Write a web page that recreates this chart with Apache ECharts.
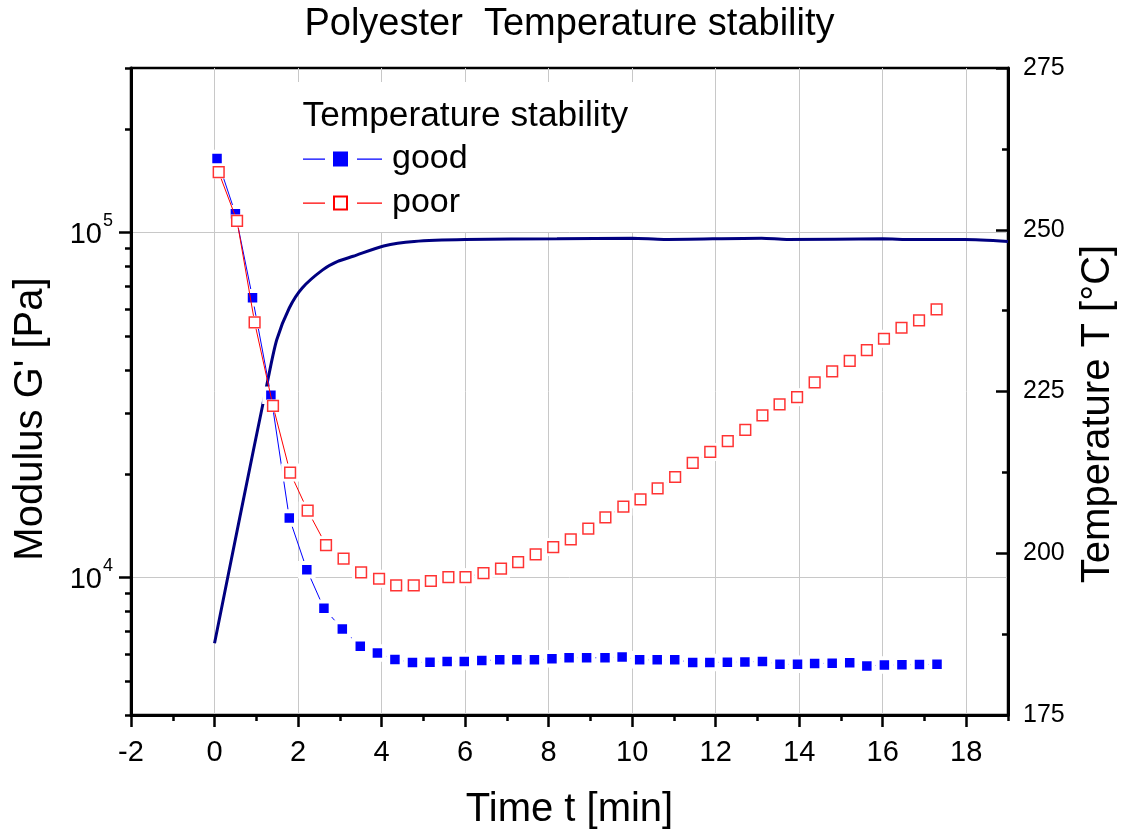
<!DOCTYPE html>
<html>
<head>
<meta charset="utf-8">
<script src="https://cdn.jsdelivr.net/npm/echarts@6/dist/echarts.min.js"></script>
<style>
html,body{margin:0;padding:0;background:#fff;}
#chart{width:1124px;height:830px;}
</style>
</head>
<body>
<div id="chart"></div>
<script>
// ---- data ----
const goodTime = [0.06,0.50,0.91,1.35,1.79,2.21,2.62,3.06,3.49,3.90,4.32,4.74,5.16,5.57,5.98,6.40,6.83,7.24,7.66,8.08,8.49,8.91,9.35,9.76,10.18,10.60,11.02,11.45,11.86,12.28,12.70,13.12,13.54,13.96,14.37,14.79,15.21,15.62,16.04,16.46,16.88,17.30];
const goodModulus = [164000,113500,64800,33800,14900,10550,8150,7100,6330,6050,5790,5680,5690,5720,5720,5750,5780,5780,5780,5820,5860,5860,5860,5890,5780,5780,5780,5680,5680,5690,5700,5720,5610,5610,5640,5650,5670,5550,5580,5590,5600,5610];
const poorTime = [0.10,0.54,0.96,1.40,1.81,2.23,2.67,3.09,3.51,3.94,4.35,4.77,5.18,5.60,6.01,6.44,6.86,7.27,7.69,8.11,8.53,8.95,9.36,9.79,10.20,10.61,11.03,11.45,11.87,12.29,12.71,13.12,13.53,13.95,14.37,14.79,15.21,15.62,16.03,16.45,16.87,17.29];
const poorModulus = [149700,108100,54950,31470,20170,15650,12430,11350,10360,9930,9500,9500,9780,10040,10040,10310,10620,11100,11680,12270,12920,13870,14960,16070,16870,18160,19580,21510,23140,24870,26810,29520,31770,33360,36810,39610,42520,45660,49250,53010,55700,59950];
const tempTime = [0,0.61,1.28,1.49,1.79,2.10,2.59,2.95,3.32,4.05,4.78,6.0,8.2,10.0,10.76,13.1,13.7,16.0,16.7,17.96,19];
const tempValue = [186.1,205.7,226.9,233.0,237.9,241.0,243.8,245.1,245.9,247.5,248.2,248.5,248.6,248.7,248.5,248.7,248.5,248.6,248.5,248.5,248.2];

const xTicks = [-2,0,2,4,6,8,10,12,14,16,18];
const xMinorTicks = [-1,1,3,5,7,9,11,13,15,17,19];
const yMajorTicks = [10000,100000];
const yMinorTicks = [4000,5000,6000,7000,8000,9000,20000,30000,40000,50000,60000,70000,80000,90000,200000,300000];

const titleText = 'Polyester  Temperature stability';
const legendTitle = 'Temperature stability';
const seriesNames = ['good','poor'];

// ---- styling ----
const FONT = '"Liberation Sans", Arial, Helvetica, sans-serif';
const BLACK = '#000';
const GRID = '#c8c8c8';
const GOOD_ICON = 'path://M0,7L22,7L22,8.2L0,8.2ZM30,0L45,0L45,15L30,15ZM54,7L79,7L79,8.2L54,8.2Z';
const POOR_ICON = 'path://M0,7L22,7L22,8.2L0,8.2ZM30,0L45,0L45,15L30,15ZM32,2L32,13L43,13L43,2ZM54,7L79,7L79,8.2L54,8.2Z';

function pairs(xs, ys){ return xs.map((x,i)=>[x, ys[i]]); }

const chart = echarts.init(document.getElementById('chart'), null, {renderer:'canvas'});
const tickStyle = {color: BLACK, width: 2.5};

const option = {
  animation: false,
  backgroundColor: '#fff',
  textStyle: {fontFamily: FONT, color: BLACK},
  grid: {left:131, right:116, top:68, bottom:115, show:true, borderColor:BLACK, borderWidth:2.5,
         backgroundColor:'transparent', containLabel:false, outerBoundsMode:'none'},
  graphic: [
    {type:'text', x:569.5, y:25, z:100, silent:true,
     style:{text:titleText, fontSize:38, fontFamily:FONT, fill:BLACK,
            align:'center', verticalAlign:'middle', textAlign:'center', textVerticalAlign:'middle'}},
    {type:'text', x:302.5, y:116.5, z:100, silent:true,
     style:{text:legendTitle, fontSize:35.3, fontFamily:FONT, fill:BLACK,
            align:'left', verticalAlign:'middle', textAlign:'left', textVerticalAlign:'middle'}}
  ],
  legend: {
    orient:'vertical', left:286, top:82, padding:[60,183,12,17], backgroundColor:'#fff',
    itemGap:10, itemWidth:79, itemHeight:15, selectedMode:false, z:4,
    textStyle:{fontSize:34, fontFamily:FONT, color:BLACK, lineHeight:34, padding:[0,0,0,5]},
    data:[
      {name:seriesNames[0], icon:GOOD_ICON, itemStyle:{color:'#0000ff', borderWidth:0}},
      {name:seriesNames[1], icon:POOR_ICON, itemStyle:{color:'#ff0000', borderWidth:0}}
    ]
  },
  xAxis: [
    {type:'value', min:-2, max:19, interval:2, position:'bottom',
     name:'Time t [min]', nameLocation:'middle', nameGap:75,
     nameTextStyle:{fontSize:40, fontFamily:FONT, color:BLACK, lineHeight:40},
     axisLine:{show:true, onZero:false, lineStyle:{color:BLACK, width:3}},
     axisTick:{show:true, customValues:xTicks, length:12, inside:false, lineStyle:tickStyle},
     axisLabel:{customValues:xTicks, fontSize:29, fontFamily:FONT, color:BLACK, margin:23},
     splitLine:{show:true, lineStyle:{color:GRID, width:1}},
     minorTick:{show:false}},
    {type:'value', min:-2, max:19, position:'bottom',
     axisLine:{show:false, onZero:false},
     axisTick:{show:true, customValues:xMinorTicks, length:6, lineStyle:tickStyle},
     axisLabel:{show:false}, splitLine:{show:false}}
  ],
  yAxis: [
    {type:'log', logBase:10, min:4000, max:300000, position:'left',
     name:"Modulus G' [Pa]", nameLocation:'middle', nameGap:80,
     nameTextStyle:{fontSize:40, fontFamily:FONT, color:BLACK, lineHeight:40, padding:[0,55,0,0]},
     axisLine:{show:true, onZero:false, lineStyle:{color:BLACK, width:3}},
     axisTick:{show:true, customValues:yMajorTicks, length:12, lineStyle:tickStyle},
     axisLabel:{customValues:yMajorTicks, margin:18, fontSize:29,
       formatter: v => '{b|10}{s|' + Math.round(Math.log10(v)) + '}',
       rich:{b:{fontSize:29, fontFamily:FONT, color:BLACK, padding:[5,0,0,0], verticalAlign:'middle'},
             s:{fontSize:18, fontFamily:FONT, color:BLACK, padding:[0,0,24,1], verticalAlign:'middle'}}},
     splitLine:{show:true, lineStyle:{color:GRID, width:1}}},
    {type:'value', min:175, max:275, interval:25, position:'right',
     name:'Temperature T [°C]', nameLocation:'middle', nameGap:70,
     nameTextStyle:{fontSize:40, fontFamily:FONT, color:BLACK, lineHeight:40, padding:[0,45,0,0]},
     axisLine:{show:true, onZero:false, lineStyle:{color:BLACK, width:3}},
     axisTick:{show:true, inside:true, length:12, lineStyle:tickStyle},
     minorTick:{show:true, splitNumber:2, length:6, lineStyle:tickStyle},
     axisLabel:{fontSize:25, fontFamily:FONT, color:BLACK, margin:15},
     splitLine:{show:false}},
    {type:'log', logBase:10, min:4000, max:300000, position:'left',
     axisLine:{show:false, onZero:false},
     axisTick:{show:true, customValues:yMinorTicks, length:6, lineStyle:tickStyle},
     axisLabel:{show:false}, splitLine:{show:false}}
  ],
  series: [
    {name:'temperature', type:'line', xAxisIndex:0, yAxisIndex:1, data:pairs(tempTime, tempValue),
     symbol:'none', showSymbol:false, smooth:0.25, lineStyle:{color:'#000080', width:3},
     silent:true, emphasis:{disabled:true}, z:2},
    {name:seriesNames[0], type:'line', xAxisIndex:0, yAxisIndex:0, data:pairs(goodTime, goodModulus),
     symbol:'rect', symbolSize:13.5, showAllSymbol:true,
     itemStyle:{color:'#0000ff', borderColor:'#ffffff', borderWidth:4},
     lineStyle:{color:'#0000ff', width:1}, silent:true, emphasis:{disabled:true}, z:3},
    {name:seriesNames[1], type:'line', xAxisIndex:0, yAxisIndex:0, data:pairs(poorTime, poorModulus),
     symbol:'rect', symbolSize:(v, p) => (p.dataIndex < 4 ? 13 : 18), showAllSymbol:true,
     itemStyle:{color:'#ffffff', borderWidth:0},
     lineStyle:{color:'#ff0000', width:1}, silent:true, emphasis:{disabled:true}, z:4},
    {name:'poor-markers', type:'scatter', xAxisIndex:0, yAxisIndex:0, data:pairs(poorTime, poorModulus),
     symbol:'rect', symbolSize:10.7,
     itemStyle:{color:'#ffffff', borderColor:'#ff0000', borderWidth:1.5},
     silent:true, emphasis:{disabled:true}, z:5}
  ]
};
chart.setOption(option);
</script>
</body>
</html>
